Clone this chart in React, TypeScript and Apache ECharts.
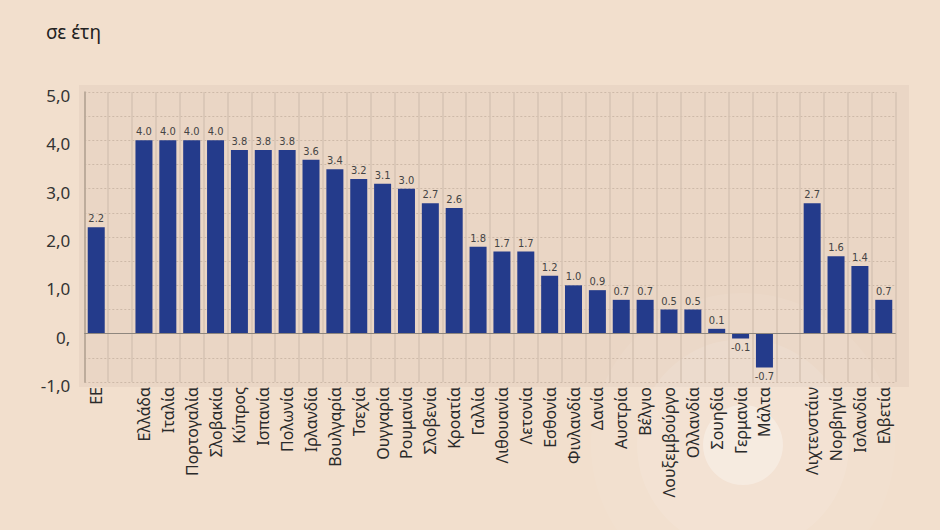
import React, { useEffect, useRef } from "react";
import * as echarts from "echarts";

const categories: string[] = [
  "ΕΕ", "",
  "Ελλάδα", "Ιταλία", "Πορτογαλία", "Σλοβακία", "Κύπρος", "Ισπανία", "Πολωνία",
  "Ιρλανδία", "Βουλγαρία", "Τσεχία", "Ουγγαρία", "Ρουμανία", "Σλοβενία", "Κροατία",
  "Γαλλία", "Λιθουανία", "Λετονία", "Εσθονία", "Φινλανδία", "Δανία", "Αυστρία",
  "Βέλγιο", "Λουξεμβούργο", "Ολλανδία", "Σουηδία", "Γερμανία", "Μάλτα", " ",
  "Λιχτενστάιν", "Νορβηγία", "Ισλανδία", "Ελβετία",
];

const values: (number | null)[] = [
  2.2, null,
  4.0, 4.0, 4.0, 4.0, 3.8, 3.8, 3.8,
  3.6, 3.4, 3.2, 3.1, 3.0, 2.7, 2.6,
  1.8, 1.7, 1.7, 1.2, 1.0, 0.9, 0.7,
  0.7, 0.5, 0.5, 0.1, -0.1, -0.7, null,
  2.7, 1.6, 1.4, 0.7,
];

const yTickValues: number[] = [-1, 0, 1, 2, 3, 4, 5];
const yTickLabels: string[] = ["-1,0", "0,", "1,0", "2,0", "3,0", "4,0", "5,0"];

const titleText = "σε έτη";

export default function App() {
  const ref = useRef<HTMLDivElement>(null);

  useEffect(() => {
    if (!ref.current) return;
    const chart = echarts.init(ref.current, null, { renderer: "svg" });

    const data = values.map((v) =>
      v === null
        ? "-"
        : {
            value: v,
            label: { position: v < 0 ? "bottom" : "top" },
          }
    );

    const option: any = {
      animation: false,
      backgroundColor: "#F2DFCD",
      title: {
        text: titleText,
        left: 41,
        top: 17,
        textStyle: {
          fontFamily: "Noto Sans",
          fontSize: 19,
          fontWeight: "normal",
          color: "#222",
        },
      },
      graphic: [
        {
          type: "rect",
          z: -10,
          silent: true,
          shape: { x: 79, y: 85, width: 830, height: 302 },
          style: { fill: "#EAD6C5" },
        },
        {
          type: "circle",
          z: -9,
          silent: true,
          shape: { cx: 743, cy: 445, r: 152 },
          style: { fill: "rgba(255,255,255,0.06)" },
        },
        {
          type: "circle",
          z: -8,
          silent: true,
          shape: { cx: 743, cy: 445, r: 106 },
          style: { fill: "rgba(255,255,255,0.09)" },
        },
        {
          type: "circle",
          z: -7,
          silent: true,
          shape: { cx: 743, cy: 445, r: 40 },
          style: { fill: "rgba(255,255,255,0.3)" },
        },
      ],
      grid: {
        left: 84.3,
        right: 44.3,
        top: 92,
        bottom: 148,
        containLabel: false,
      },
      xAxis: {
        type: "category",
        data: categories,
        z: 1,
        axisLine: { show: false },
        axisTick: { show: false },
        splitLine: {
          show: true,
          interval: 0,
          lineStyle: { color: "#D6C3B3", width: 1.5 },
        },
        axisLabel: {
          interval: 0,
          rotate: 90,
          margin: 5,
          fontFamily: "Noto Sans",
          fontSize: 16,
          color: "#2a2a2a",
        },
      },
      yAxis: {
        type: "value",
        min: -1,
        max: 5,
        interval: 0.5,
        z: 1,
        axisLine: { show: true, lineStyle: { color: "#B3A393", width: 1.5 } },
        axisTick: { show: false },
        splitLine: {
          show: true,
          lineStyle: { color: "#CDB9A8", width: 1, type: [2, 2] },
        },
        axisLabel: {
          margin: 14,
          fontFamily: "Noto Sans",
          fontSize: 17,
          color: "#333",
          formatter: (v: number) => {
            const i = yTickValues.indexOf(v);
            return i >= 0 ? "{a|" + yTickLabels[i] + "}" : "";
          },
          rich: {
            a: {
              fontFamily: "Noto Sans",
              fontSize: 17,
              color: "#333",
              padding: [7, 0, 0, 0],
            },
          },
        },
      },
      series: [
        {
          type: "bar",
          data,
          barWidth: 17,
          itemStyle: { color: "#243B8B" },
          label: {
            show: true,
            distance: 3,
            fontFamily: "Liberation Sans Narrow, DejaVu Sans Condensed, sans-serif",
            fontSize: 11,
            color: "#444",
            formatter: (p: any) =>
              typeof p.value === "number" ? p.value.toFixed(1) : "",
          },
          markLine: {
            silent: true,
            symbol: "none",
            label: { show: false },
            lineStyle: { color: "#8E867E", width: 1, type: "solid" },
            data: [{ yAxis: 0 }],
          },
        },
      ],
    };

    chart.setOption(option);
    return () => chart.dispose();
  }, []);

  return (
    <div
      ref={ref}
      style={{ position: "fixed", left: 0, top: 0, width: 940, height: 530 }}
    />
  );
}
